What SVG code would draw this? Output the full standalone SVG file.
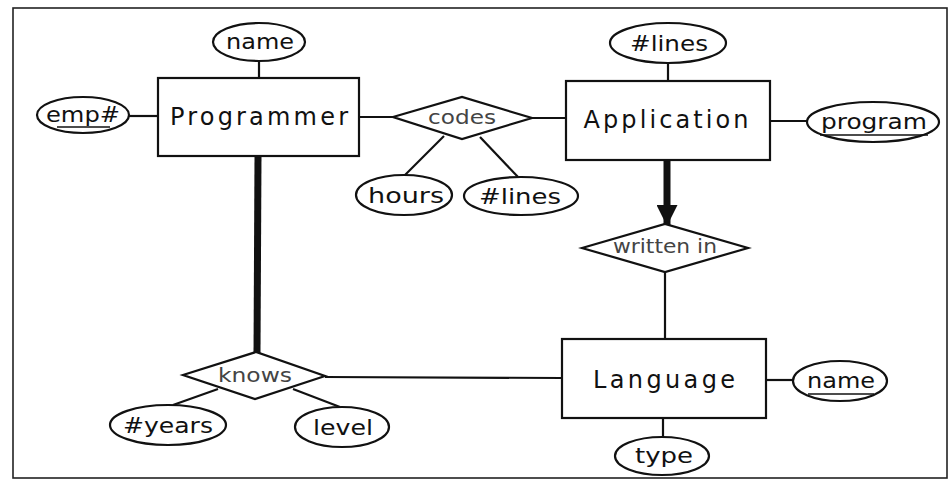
<svg xmlns="http://www.w3.org/2000/svg" width="950" height="485" viewBox="0 0 950 485">
<style>
.sh{fill:#fff;stroke:#111;stroke-width:2.2}
.ln{stroke:#111;stroke-width:2.2;fill:none}
.thick{stroke:#111;stroke-width:7;fill:none}
.ent{font-family:"DejaVu Sans",sans-serif;font-size:24px;fill:#111;text-anchor:middle}
.att{font-family:"DejaVu Sans",sans-serif;font-size:22px;fill:#111;text-anchor:middle}
.rel{font-family:"DejaVu Sans",sans-serif;font-size:19px;fill:#444;text-anchor:middle}
.ul{stroke:#111;stroke-width:1.6}
</style>
<defs>
<marker id="arr" viewBox="0 0 10 10" refX="10" refY="5" markerWidth="3.4" markerHeight="3" orient="auto" markerUnits="strokeWidth">
<path d="M0,0 L10,5 L0,10 z" fill="#111"/>
</marker>
</defs>
<rect x="13" y="8" width="934" height="470" fill="#fff" stroke="#222" stroke-width="1.6"/>
<g id="connectors">
<line class="ln" x1="259" y1="61" x2="259" y2="78"/>
<line class="ln" x1="129" y1="116" x2="158" y2="116"/>
<line class="ln" x1="359" y1="117" x2="393" y2="117"/>
<line class="ln" x1="532" y1="118" x2="566" y2="118"/>
<line class="ln" x1="668" y1="63" x2="668" y2="81"/>
<line class="ln" x1="770" y1="121" x2="807" y2="121"/>
<line class="ln" x1="405" y1="175" x2="444" y2="136"/>
<line class="ln" x1="480" y1="137" x2="518" y2="177"/>
<line class="thick" x1="667" y1="160" x2="667" y2="226" marker-end="url(#arr)"/>
<line class="ln" x1="665" y1="272" x2="665" y2="339"/>
<line class="ln" x1="766" y1="380" x2="793" y2="380"/>
<line class="ln" x1="663" y1="418" x2="663" y2="437"/>
<line class="thick" x1="258" y1="156" x2="257" y2="353"/>
<line class="ln" x1="325" y1="377" x2="562" y2="378"/>
<line class="ln" x1="173" y1="405" x2="218" y2="389"/>
<line class="ln" x1="293" y1="389" x2="340" y2="407"/>
</g>
<g id="programmer">
<rect class="sh" x="158" y="78" width="201" height="78"/>
<text class="ent" x="259" y="125" textLength="178" lengthAdjust="spacing">Programmer</text>
</g>
<g id="programmer-name">
<ellipse class="sh" cx="259" cy="42" rx="46" ry="19"/>
<text class="att" x="260" y="49" textLength="68" lengthAdjust="spacingAndGlyphs">name</text>
</g>
<g id="emp">
<ellipse class="sh" cx="83" cy="115" rx="46" ry="18"/>
<text class="att" x="83" y="122" textLength="74" lengthAdjust="spacingAndGlyphs">emp#</text>
<line class="ul" x1="57" y1="127" x2="110" y2="127"/>
</g>
<g id="codes">
<polygon class="sh" points="393,117 462,97 532,118 462,139"/>
<text class="rel" x="462" y="124" textLength="68" lengthAdjust="spacingAndGlyphs">codes</text>
</g>
<g id="hours">
<ellipse class="sh" cx="404" cy="195" rx="48" ry="20"/>
<text class="att" x="406" y="203" textLength="76" lengthAdjust="spacingAndGlyphs">hours</text>
</g>
<g id="codes-lines">
<ellipse class="sh" cx="521" cy="196" rx="57" ry="19"/>
<text class="att" x="520" y="204" textLength="82" lengthAdjust="spacingAndGlyphs">#lines</text>
</g>
<g id="application">
<rect class="sh" x="566" y="81" width="204" height="79"/>
<text class="ent" x="666" y="128" textLength="165" lengthAdjust="spacing">Application</text>
</g>
<g id="app-lines">
<ellipse class="sh" cx="668" cy="43" rx="58" ry="20"/>
<text class="att" x="669" y="51" textLength="78" lengthAdjust="spacingAndGlyphs">#lines</text>
</g>
<g id="program">
<ellipse class="sh" cx="873" cy="122" rx="66" ry="20"/>
<text class="att" x="874" y="129" textLength="106" lengthAdjust="spacingAndGlyphs">program</text>
<line class="ul" x1="820" y1="135" x2="928" y2="135"/>
</g>
<g id="written-in">
<polygon class="sh" points="582,248 665,224 748,248 665,272"/>
<text class="rel" x="665" y="253" textLength="104" lengthAdjust="spacingAndGlyphs">written in</text>
</g>
<g id="language">
<rect class="sh" x="562" y="339" width="204" height="79"/>
<text class="ent" x="664" y="388" textLength="142" lengthAdjust="spacing">Language</text>
</g>
<g id="lang-name">
<ellipse class="sh" cx="840" cy="381" rx="47" ry="20"/>
<text class="att" x="841" y="388" textLength="68" lengthAdjust="spacingAndGlyphs">name</text>
<line class="ul" x1="808" y1="394" x2="874" y2="394"/>
</g>
<g id="type">
<ellipse class="sh" cx="662" cy="456" rx="47" ry="19"/>
<text class="att" x="664" y="463" textLength="58" lengthAdjust="spacingAndGlyphs">type</text>
</g>
<g id="knows">
<polygon class="sh" points="183,375 256,352 325,376 255,399"/>
<text class="rel" x="255" y="382" textLength="74" lengthAdjust="spacingAndGlyphs">knows</text>
</g>
<g id="years">
<ellipse class="sh" cx="168" cy="425" rx="58" ry="20"/>
<text class="att" x="168" y="433" textLength="90" lengthAdjust="spacingAndGlyphs">#years</text>
</g>
<g id="level">
<ellipse class="sh" cx="342" cy="427" rx="47" ry="20"/>
<text class="att" x="343" y="435" textLength="60" lengthAdjust="spacingAndGlyphs">level</text>
</g>
</svg>
